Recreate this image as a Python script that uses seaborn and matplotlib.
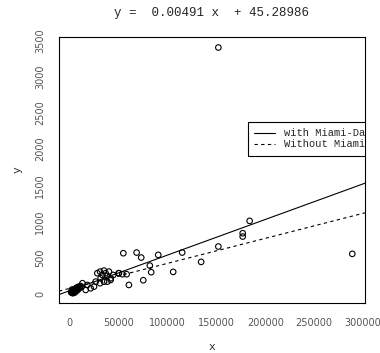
import matplotlib
matplotlib.use("Agg")
import matplotlib.pyplot as plt
import seaborn as sns
import pandas as pd

# ---- data ----
x_vals = [1500, 2000, 2500, 3000, 3500, 4000, 4500, 5000, 5500, 6000,
          6500, 7000, 7500, 8000, 9000, 10000, 11000, 12000, 2200, 4800,
          3200, 5200, 6800, 8500,
          13000, 18000, 16300, 21400, 24800, 28200, 31000, 33300, 35000, 36700,
          38400, 40100, 31600, 35000, 38400, 31000, 41800, 44500, 50300, 26500,
          54800, 68400, 73100, 90500, 81900, 83300, 105800, 75200, 60500, 50000,
          53800, 58200, 41800,
          184000, 176900, 176900, 152000, 115000, 134400,
          152000, 289000]
y_vals = [20, 35, 15, 40, 55, 30, 60, 45, 70, 50,
          80, 65, 90, 75, 100, 85, 110, 95, 60, 25,
          10, 20, 40, 60,
          148, 124, 55, 78, 101, 286, 308, 262, 322, 286,
          249, 308, 217, 170, 170, 148, 217, 262, 286, 170,
          562, 571, 502, 539, 391, 300, 304, 189, 124, 286,
          272, 272, 193,
          1008, 838, 792, 654, 571, 442,
          3400, 553]

fit_labels = ["with Miami-Dade", "Without Miami-Dade"]
fit_slopes = [0.00491, 0.00345]
fit_intercepts = [45.28986, 77.0]
fit_styles = ["-", (0, (3, 3))]

x_ticks = [0, 50000, 100000, 150000, 200000, 250000, 300000]
y_ticks = [0, 500, 1000, 1500, 2000, 2500, 3000, 3500]
title_text = "y =  0.00491 x  + 45.28986"

df = pd.DataFrame({"x": x_vals, "y": y_vals})

sns.set_style("white")
plt.rcParams["font.family"] = ["DejaVu Sans"]
mono = "Liberation Mono"

fig = plt.figure(figsize=(3.8, 3.53), dpi=100)
ax = fig.add_axes([59 / 380, 1 - 303 / 353, 306 / 380, 266 / 353])

sns.scatterplot(data=df, x="x", y="y", ax=ax, marker="o", s=16,
                facecolor="none", edgecolor="black", linewidth=0.8,
                legend=False, zorder=3)

for lab, m, b, ls in zip(fit_labels, fit_slopes, fit_intercepts, fit_styles):
    ax.axline((0, b), slope=m, color="black", lw=0.8, linestyle=ls, label=lab)

ax.set_xlim(-11000, 302000)
ax.set_ylim(-125, 3545)
ax.set_xticks(x_ticks)
ax.set_yticks(y_ticks)
ax.set_xticklabels([str(v) for v in x_ticks])
ax.set_yticklabels([str(v) for v in y_ticks], rotation=90, va="center")
ax.tick_params(axis="both", direction="out", length=5, width=0.8,
               colors="black", labelcolor="#555555", labelsize=7)
ax.tick_params(axis="x", pad=6)
ax.tick_params(axis="y", pad=5)
for sp in ax.spines.values():
    sp.set_visible(True)
    sp.set_color("black")
    sp.set_linewidth(0.8)

ax.set_xlabel("x", family=mono, fontsize=8, labelpad=10)
ax.set_ylabel("y", family=mono, fontsize=8, labelpad=9)
fig.text((59 + 365) / 2 / 380, 1 - 13 / 353, title_text, family=mono,
         fontsize=9, ha="center", va="center")

leg = ax.legend(loc="upper left", bbox_to_anchor=(0.618, 0.68),
                borderaxespad=0, frameon=True, fancybox=False,
                edgecolor="black", framealpha=1, handlelength=2.0,
                handletextpad=0.8, borderpad=0.6, labelspacing=0.1,
                prop={"family": mono, "size": 7.5})
leg.get_frame().set_linewidth(0.8)
for art in leg.findobj():
    try:
        art.set_clip_on(True)
        art.set_clip_path(ax.patch)
    except Exception:
        pass

fig.savefig("out.png", dpi=100)
